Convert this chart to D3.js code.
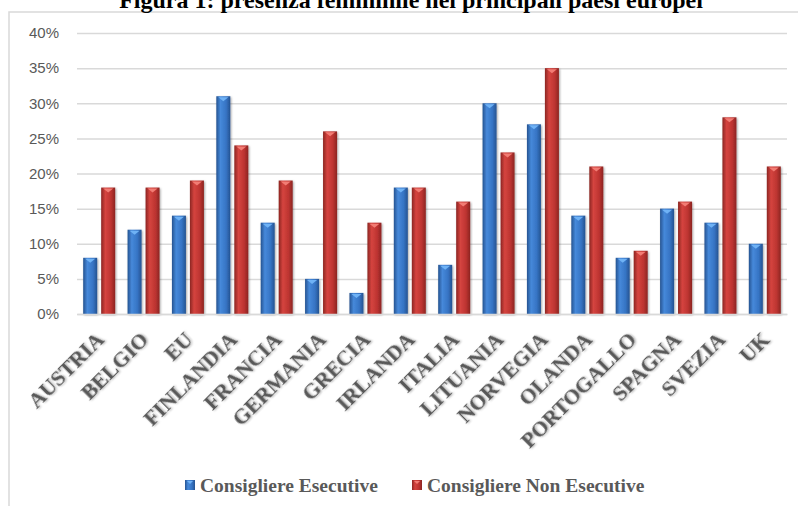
<!DOCTYPE html>
<html>
<head>
<meta charset="utf-8">
<script src="https://cdn.jsdelivr.net/npm/d3@7"></script>
<style>
  body { margin: 0; background: #fff; }
  svg { display: block; }
</style>
</head>
<body>
<script>
// dati
const paesi = ['AUSTRIA', 'BELGIO', 'EU', 'FINLANDIA', 'FRANCIA', 'GERMANIA', 'GRECIA', 'IRLANDA',
  'ITALIA', 'LITUANIA', 'NORVEGIA', 'OLANDA', 'PORTOGALLO', 'SPAGNA', 'SVEZIA', 'UK'];
const esecutive = [8, 12, 14, 31, 13, 5, 3, 18, 7, 30, 27, 14, 8, 15, 13, 10];
const nonEsecutive = [18, 18, 19, 24, 19, 26, 13, 18, 16, 23, 35, 21, 9, 16, 28, 21];
const serie = ['Consigliere Esecutive', 'Consigliere Non Esecutive'];
const yTicks = [0, 5, 10, 15, 20, 25, 30, 35, 40];

const width = 798, height = 506;
const margin = {top: 33, right: 11, bottom: 192, left: 77};

const svg = d3.select('body').append('svg')
  .attr('width', width)
  .attr('height', height);

const defs = svg.append('defs');

// gradienti per l'effetto "cilindro" delle barre
function gradiente(id, scuro, medio, chiaro) {
  const g = defs.append('linearGradient').attr('id', id)
    .attr('x1', '0%').attr('x2', '100%').attr('y1', '0%').attr('y2', '0%');
  g.append('stop').attr('offset', '0%').attr('stop-color', scuro);
  g.append('stop').attr('offset', '30%').attr('stop-color', chiaro);
  g.append('stop').attr('offset', '70%').attr('stop-color', medio);
  g.append('stop').attr('offset', '100%').attr('stop-color', scuro);
}
gradiente('gBlu', '#255391', '#3674c4', '#4689da');
gradiente('gRosso', '#8c2522', '#bd3431', '#d5443f');

const ombra = defs.append('filter').attr('id', 'ombra')
  .attr('x', '-20%').attr('y', '-20%').attr('width', '140%').attr('height', '140%');
ombra.append('feDropShadow').attr('dx', 1).attr('dy', 1).attr('stdDeviation', 0.8)
  .attr('flood-color', '#000').attr('flood-opacity', 0.35);

// cornice
svg.append('rect')
  .attr('x', 9).attr('y', 12)
  .attr('width', 900).attr('height', 600)
  .attr('fill', 'none')
  .attr('stroke', '#d9d9d9')
  .attr('stroke-width', 1.5);

// titolo (tagliato in alto come nell'originale)
svg.append('text')
  .attr('x', 411).attr('y', 8)
  .attr('text-anchor', 'middle')
  .attr('font-family', '"Liberation Serif", serif')
  .attr('font-weight', 'bold')
  .attr('font-size', 24)
  .attr('fill', '#000')
  .text('Figura 1: presenza femminile nei principali paesi europei');

const x = d3.scaleBand()
  .domain(paesi)
  .range([margin.left, width - margin.right])
  .paddingInner(0).paddingOuter(0);

const xSerie = d3.scaleBand()
  .domain([0, 1])
  .range([0, x.bandwidth()])
  .paddingInner(0.222)
  .paddingOuter(0.344);

const y = d3.scaleLinear()
  .domain([0, 40])
  .range([314, margin.top]);

// griglia
const yAxis = d3.axisLeft(y)
  .tickValues(yTicks)
  .tickSize(-(width - margin.right - margin.left))
  .tickFormat(d => d + '%');

const gy = svg.append('g')
  .attr('transform', `translate(${margin.left},0)`)
  .call(yAxis);
gy.select('.domain').remove();
gy.selectAll('.tick line').attr('stroke', '#d9d9d9').attr('stroke-width', 1.5);
gy.selectAll('.tick text')
  .attr('x', -18)
  .attr('fill', '#595959')
  .attr('font-family', '"Liberation Sans", Arial, sans-serif')
  .attr('font-size', 15);

// barre
const dati = paesi.map((p, i) => ({paese: p, valori: [esecutive[i], nonEsecutive[i]]}));
const colori = ['url(#gBlu)', 'url(#gRosso)'];
const punte = ['#6fb2f5', '#f27c74'];

const gruppi = svg.append('g').selectAll('g')
  .data(dati)
  .enter()
  .append('g')
  .attr('transform', d => `translate(${x(d.paese)},0)`);

gruppi.selectAll('g.barra')
  .data(d => d.valori.map((v, s) => ({v: v, s: s})))
  .enter()
  .append('g')
  .attr('class', 'barra')
  .each(function (d) {
    const g = d3.select(this);
    const bx = xSerie(d.s), bw = xSerie.bandwidth();
    const top = y(d.v), bottom = y(0);
    g.append('rect')
      .attr('x', bx).attr('y', top)
      .attr('width', bw).attr('height', bottom - top)
      .attr('fill', colori[d.s])
      .attr('filter', 'url(#ombra)');
    g.append('path')
      .attr('d', `M${bx + 2},${top + 1} L${bx + bw - 2},${top + 1} L${bx + bw / 2},${top + 5} Z`)
      .attr('fill', punte[d.s]);
  });

// etichette categorie
const xAxis = d3.axisBottom(x).tickSize(0);
const gx = svg.append('g')
  .attr('transform', `translate(0,${y(0)})`)
  .call(xAxis);
gx.select('.domain').attr('stroke', '#d9d9d9').attr('stroke-width', 1.5);
gx.selectAll('.tick text')
  .attr('font-family', '"Liberation Serif", serif')
  .attr('font-weight', 'bold')
  .attr('font-size', 21.5)
  .attr('fill', '#595959')
  .attr('text-anchor', 'end')
  .attr('y', 0).attr('dy', 0)
  .attr('transform', 'translate(6,27) rotate(-45)')
  .attr('filter', 'url(#ombra)');

// legenda
const legenda = svg.append('g');
const legX = [185, 412];
serie.forEach((s, i) => {
  legenda.append('rect')
    .attr('x', legX[i]).attr('y', 480)
    .attr('width', 10).attr('height', 10)
    .attr('fill', colori[i]);
  legenda.append('path')
    .attr('d', `M${legX[i] + 2},${481} L${legX[i] + 8},${481} L${legX[i] + 5},${484} Z`)
    .attr('fill', punte[i]);
  legenda.append('text')
    .attr('x', legX[i] + 15).attr('y', 492)
    .attr('font-family', '"Liberation Serif", serif')
    .attr('font-weight', 'bold')
    .attr('font-size', 19.5)
    .attr('fill', '#595959')
    .text(s);
});
</script>
</body>
</html>
